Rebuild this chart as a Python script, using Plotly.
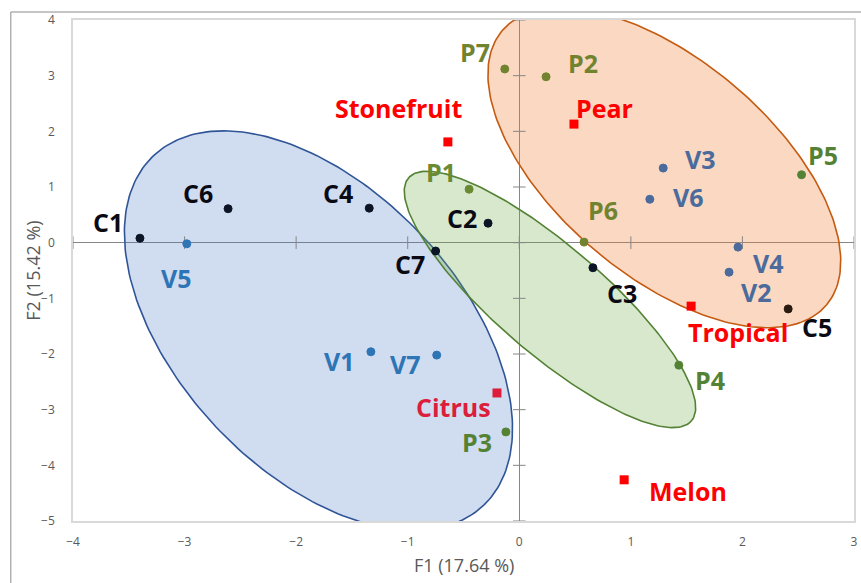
import numpy as np
import plotly.graph_objects as go

# ---- sample coordinates on the first two factors ----
c_names = ["C1", "C2", "C3", "C4", "C5", "C6", "C7"]
c_f1 = [-3.40, -0.28, 0.66, -1.345, 2.41, -2.61, -0.75]
c_f2 = [0.08, 0.35, -0.45, 0.62, -1.19, 0.61, -0.15]

v_names = ["V1", "V2", "V3", "V4", "V5", "V6", "V7"]
v_f1 = [-1.33, 1.88, 1.29, 1.96, -2.98, 1.17, -0.74]
v_f2 = [-1.96, -0.53, 1.34, -0.08, -0.02, 0.78, -2.02]

p_names = ["P1", "P2", "P3", "P4", "P5", "P6", "P7"]
p_f1 = [-0.45, 0.24, -0.12, 1.43, 2.53, 0.58, -0.13]
p_f2 = [0.96, 2.98, -3.40, -2.20, 1.22, 0.01, 3.12]

aroma_names = ["Stonefruit", "Pear", "Tropical", "Citrus", "Melon"]
aroma_f1 = [-0.64, 0.49, 1.54, -0.20, 0.94]
aroma_f2 = [1.81, 2.13, -1.14, -2.70, -4.26]

x_ticks = [-4, -3, -2, -1, 0, 1, 2, 3]
y_ticks = [-5, -4, -3, -2, -1, 0, 1, 2, 3, 4]

# ---- figure geometry ----
W, H = 861, 583
M = dict(l=73, r=3, t=20, b=62)
PW = W - M["l"] - M["r"]
PH = H - M["t"] - M["b"]
X_RANGE = (-4, 3)
Y_RANGE = (-5, 4)
SX = PW / (X_RANGE[1] - X_RANGE[0])   # px per F1 unit
SY = PH / (Y_RANGE[1] - Y_RANGE[0])   # px per F2 unit

# label offsets in screen px (dx right, dy up)
label_offset = {
    "C1": (-32, 16), "C2": (-26, 5), "C3": (29, -25), "C4": (-31, 15),
    "C5": (29, -18), "C6": (-30, 16), "C7": (-26, -13),
    "V1": (-31, -9), "V2": (27, -20), "V3": (37, 9), "V4": (31, -16),
    "V5": (-10, -34), "V6": (39, 2), "V7": (-31, -9),
    "P1": (-28, 17), "P2": (37, 14), "P3": (-29, -10), "P4": (31, -15),
    "P5": (21, 20), "P6": (19, 32), "P7": (-30, 17),
    "Stonefruit": (-49, 34), "Pear": (31, 16), "Tropical": (47, -26),
    "Citrus": (-43, -14), "Melon": (64, -11),
}

BRIGHT_BLUE = "#2e75b6"
SLATE_BLUE = "#4a6b9c"
OLIVE = "#728330"
GREEN = "#548235"
RED = "#ff0000"
CRIMSON = "#dc1e3c"
DARK = "#0c1526"

point_color = {n: DARK for n in c_names}
point_color["C5"] = "#2a1a10"
for n in v_names:
    point_color[n] = BRIGHT_BLUE if n in ("V1", "V5", "V7") else SLATE_BLUE
for n in p_names:
    point_color[n] = OLIVE if n in ("P2", "P6", "P7") else GREEN
point_color["P1"] = "#6a8a34"
for n in aroma_names:
    point_color[n] = CRIMSON if n == "Citrus" else RED

label_color = dict(point_color)
for n in c_names:
    label_color[n] = "#0a0a14"


def ellipse_xy(cx, cy, a_px, b_px, angle_deg, n=240):
    """Ellipse drawn with on-screen semi-axes (px), rotated clockwise on screen."""
    t = np.linspace(0, 2 * np.pi, n)
    th = np.radians(angle_deg)
    dx = a_px * np.cos(th) * np.cos(t) - b_px * np.sin(th) * np.sin(t)
    dy = a_px * np.sin(th) * np.cos(t) + b_px * np.cos(th) * np.sin(t)
    return cx + dx / SX, cy - dy / SY


fig = go.Figure()

# group ellipses
groups = [
    dict(c=(-1.80, -1.58), a=241, b=141, ang=46.4,
         fill="rgba(68,114,196,0.25)", line="#2f5597"),
    dict(c=(1.30, 1.345), a=213, b=108, ang=40.0,
         fill="rgba(237,125,49,0.30)", line="#c55a11"),
    dict(c=(0.275, -1.02), a=187, b=54, ang=40.5,
         fill="rgba(112,173,71,0.28)", line="#548235"),
]
for g in groups:
    ex, ey = ellipse_xy(g["c"][0], g["c"][1], g["a"], g["b"], g["ang"])
    fig.add_trace(go.Scatter(x=ex, y=ey, mode="lines", fill="toself",
                             fillcolor=g["fill"],
                             line=dict(color=g["line"], width=1.6),
                             hoverinfo="skip", showlegend=False))

# cross tick marks on the zero axes
fig.add_trace(go.Scatter(x=x_ticks, y=[0] * len(x_ticks), mode="markers",
                         marker=dict(symbol="line-ns", size=9,
                                     line=dict(color="#868686", width=1)),
                         hoverinfo="skip", showlegend=False))
fig.add_trace(go.Scatter(x=[0] * len(y_ticks), y=y_ticks, mode="markers",
                         marker=dict(symbol="line-ew", size=9,
                                     line=dict(color="#868686", width=1)),
                         hoverinfo="skip", showlegend=False))

# sample points
for names, xs, ys in [(c_names, c_f1, c_f2), (v_names, v_f1, v_f2),
                      (p_names, p_f1, p_f2)]:
    cols = [point_color[n] for n in names]
    fig.add_trace(go.Scatter(x=xs, y=ys, mode="markers", text=names,
                             marker=dict(symbol="circle", size=8, color=cols,
                                         line=dict(color=cols, width=1)),
                             showlegend=False))

# aroma references
fig.add_trace(go.Scatter(x=aroma_f1, y=aroma_f2, mode="markers", text=aroma_names,
                         marker=dict(symbol="square", size=9,
                                     color=[point_color[n] for n in aroma_names]),
                         showlegend=False))

# point labels
for names, xs, ys in [(c_names, c_f1, c_f2), (v_names, v_f1, v_f2),
                      (p_names, p_f1, p_f2),
                      (aroma_names, aroma_f1, aroma_f2)]:
    for n, x, y in zip(names, xs, ys):
        dx, dy = label_offset[n]
        fig.add_annotation(x=x, y=y, text=f"<b>{n}</b>", showarrow=False,
                           xshift=dx, yshift=dy, xanchor="center", yanchor="middle",
                           borderpad=0,
                           font=dict(family="Open Sans", size=25,
                                     color=label_color[n]))

# axis titles
title_font = dict(family="Open Sans", size=18, color="#595959")
fig.add_annotation(x=0.5, y=-(565 - (H - M["b"])) / PH, xref="paper", yref="paper",
                   text="F1 (17.64 %)", showarrow=False, xanchor="center",
                   yanchor="middle", font=title_font)
fig.add_annotation(x=-(M["l"] - 32) / PW, y=0.5, xref="paper", yref="paper",
                   text="F2 (15.42 %)", showarrow=False, textangle=-90,
                   xanchor="center", yanchor="middle", font=title_font)

# outer chart frame
fig.add_shape(type="rect", xref="paper", yref="paper",
              x0=-(M["l"] - 10.5) / PW, x1=1.2,
              y0=-0.5, y1=1 + 8 / PH,
              line=dict(color="#8c8c8c", width=1), layer="below")

axis_common = dict(showgrid=False, zeroline=True, zerolinecolor="#868686",
                   zerolinewidth=1, showline=True, mirror=True,
                   linecolor="#d9d9d9", linewidth=1.5, ticks="",
                   tickfont=dict(family="Open Sans", size=12, color="#595959"))

fig.update_layout(
    width=W, height=H, margin=M,
    paper_bgcolor="white", plot_bgcolor="white",
    xaxis=dict(range=X_RANGE, tickvals=x_ticks, ticklabelstandoff=9,
               **axis_common),
    yaxis=dict(range=Y_RANGE, tickvals=y_ticks, ticklabelstandoff=14,
               **axis_common),
)

fig.write_html("out.html")
